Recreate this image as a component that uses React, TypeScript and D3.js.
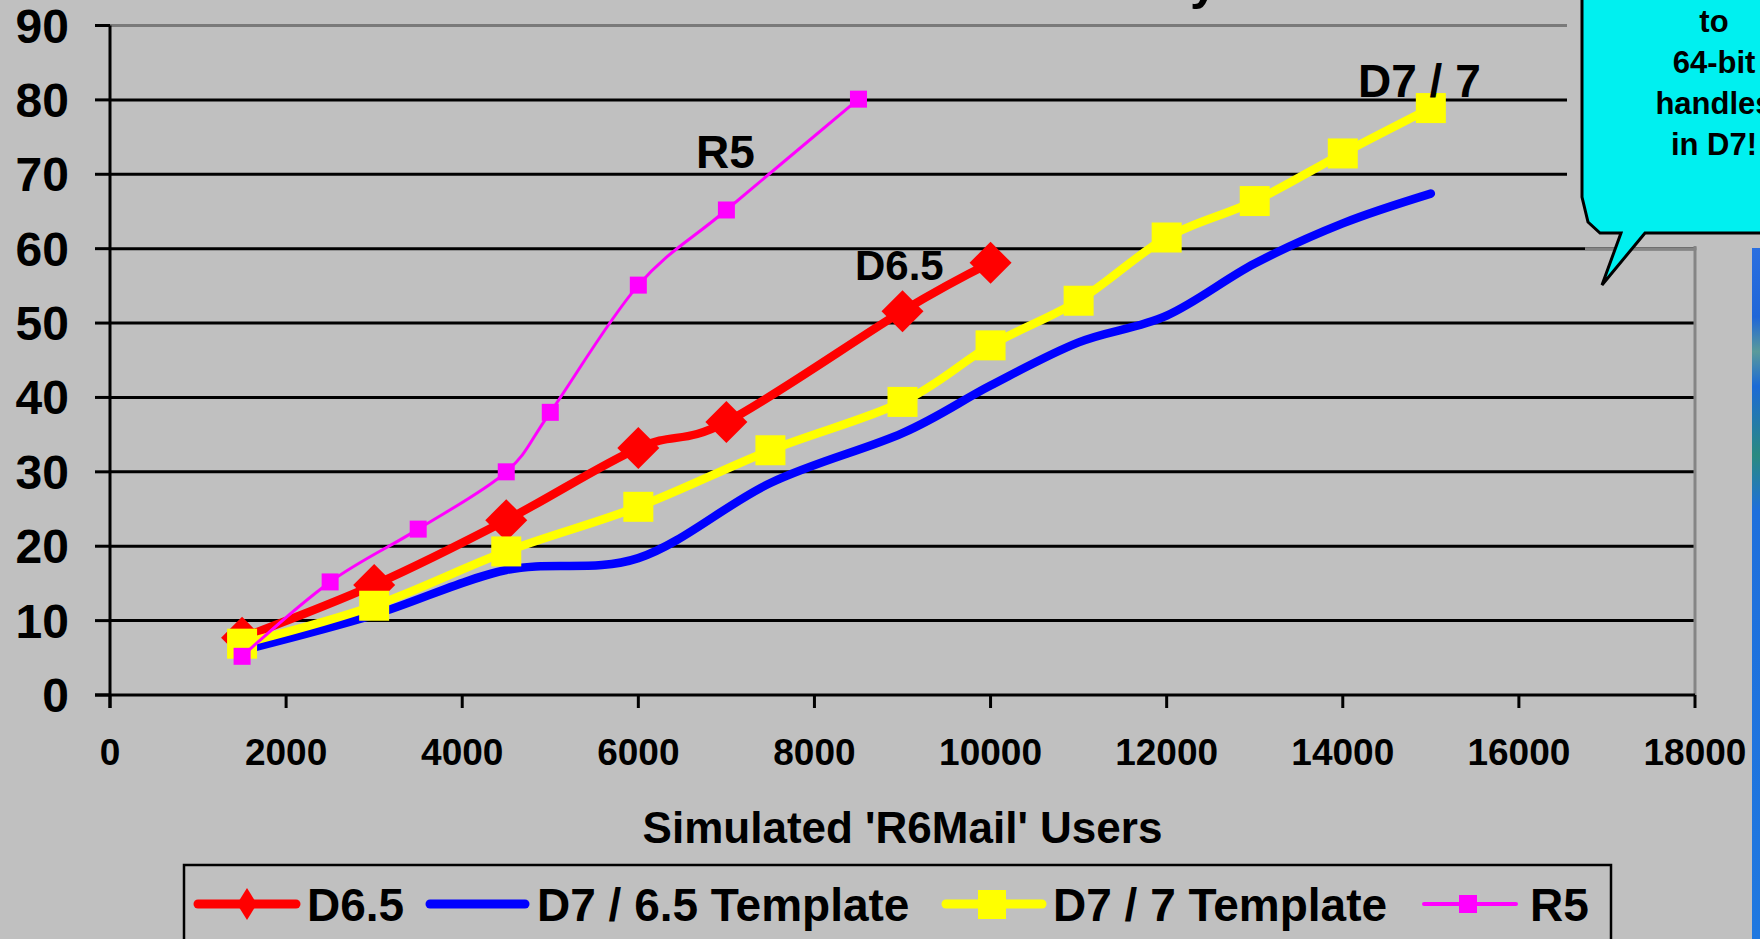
import React from "react";
import * as d3 from "d3";

// ---- data ----
const xTicks = [0, 2000, 4000, 6000, 8000, 10000, 12000, 14000, 16000, 18000];
const yTicks = [0, 10, 20, 30, 40, 50, 60, 70, 80, 90];

const d65X = [1500, 3000, 4500, 6000, 7000, 9000, 10000];
const d65Y = [7.7, 14.8, 23.5, 33.2, 36.7, 51.6, 58.1];

const d7t65X = [1500, 3000, 4500, 6000, 7500, 9000, 10000, 11000, 12000, 13000, 14000, 15000];
const d7t65Y = [6.0, 10.8, 16.8, 18.4, 28.5, 35.2, 41.6, 47.4, 51.0, 58.0, 63.4, 67.4];

const d7t7X = [1500, 3000, 4500, 6000, 7500, 9000, 10000, 11000, 12000, 13000, 14000, 15000];
const d7t7Y = [6.9, 12.0, 19.3, 25.3, 32.9, 39.4, 47.0, 53.0, 61.5, 66.4, 72.8, 78.9];

const r5X = [1500, 2500, 3500, 4500, 5000, 6000, 7000, 8500];
const r5Y = [5.2, 15.2, 22.3, 30.0, 38.0, 55.1, 65.2, 80.1];

const seriesNames = ["D6.5", "D7 / 6.5 Template", "D7 / 7 Template", "R5"];
const xTitle = "Simulated 'R6Mail' Users";
const calloutLines = ["to", "64-bit", "handles", "in D7!"];

const FONT = "'Liberation Sans', Arial, Helvetica, sans-serif";
const BG = "#c0c0c0";

export default function App() {
  const W = 1760, H = 939;
  const x = d3.scaleLinear().domain([0, 18000]).range([110, 1695]);
  const y = d3.scaleLinear().domain([0, 90]).range([695, 25.5]);

  const zip = (xs: number[], ys: number[]) => xs.map((v, i) => [v, ys[i]] as [number, number]);
  const line = d3
    .line<[number, number]>()
    .x((d) => x(d[0]))
    .y((d) => y(d[1]))
    .curve(d3.curveCardinal.tension(0));

  const red = zip(d65X, d65Y);
  const blue = zip(d7t65X, d7t65Y);
  const yellow = zip(d7t7X, d7t7Y);
  const mag = zip(r5X, r5Y);

  const diamond = (cx: number, cy: number, rx: number, ry: number) =>
    `M${cx},${cy - ry}L${cx + rx},${cy}L${cx},${cy + ry}L${cx - rx},${cy}Z`;

  const legendY = 904;
  const legendBase = 921;

  return (
    <svg
      width={W}
      height={H}
      style={{ position: "absolute", left: 0, top: 0, display: "block" }}
      fontFamily={FONT}
      fontWeight="bold"
    >
      <defs>
        <linearGradient id="stripe" x1="0" y1="0" x2="0" y2="1">
          <stop offset="0" stopColor="#2a6fe0" />
          <stop offset="0.1" stopColor="#1f66d8" />
          <stop offset="0.15" stopColor="#5a9a9a" />
          <stop offset="0.2" stopColor="#1c6ad6" />
          <stop offset="0.3" stopColor="#2a8a80" />
          <stop offset="0.38" stopColor="#1e6fdc" />
          <stop offset="1" stopColor="#1f78e0" />
        </linearGradient>
      </defs>
      <rect x={0} y={0} width={W} height={H} fill={BG} />

      {/* title fragment */}
      <text x={1190} y={-1} fontSize={50} fill="#000">y</text>

      {/* gridlines */}
      {yTicks.filter((t) => t > 0 && t < 90).map((t) => (
        <line key={"g" + t} x1={x(0)} x2={x(18000)} y1={y(t)} y2={y(t)} stroke="#000" strokeWidth={3} />
      ))}
      {/* plot border (top and right) */}
      <line x1={x(0)} x2={x(18000)} y1={y(90)} y2={y(90)} stroke="#7a7a7a" strokeWidth={3} />
      <line x1={x(18000)} x2={x(18000)} y1={y(90)} y2={y(0)} stroke="#858585" strokeWidth={3} />

      {/* axes */}
      <line x1={x(0)} x2={x(0)} y1={y(90)} y2={y(0) + 13} stroke="#000" strokeWidth={3} />
      <line x1={x(0) - 15} x2={x(18000)} y1={y(0)} y2={y(0)} stroke="#000" strokeWidth={3} />
      {yTicks.map((t) => (
        <line key={"yt" + t} x1={x(0) - 15} x2={x(0)} y1={y(t)} y2={y(t)} stroke="#000" strokeWidth={3} />
      ))}
      {xTicks.map((t) => (
        <line key={"xt" + t} x1={x(t)} x2={x(t)} y1={y(0)} y2={y(0) + 13} stroke="#000" strokeWidth={3} />
      ))}
      {yTicks.map((t) => (
        <text key={"yl" + t} x={69} y={y(t) + 17} fontSize={48} textAnchor="end" fill="#000">
          {t}
        </text>
      ))}
      {xTicks.map((t) => (
        <text key={"xl" + t} x={x(t)} y={765} fontSize={37} textAnchor="middle" fill="#000">
          {t}
        </text>
      ))}
      <text x={(x(0) + x(18000)) / 2} y={843} fontSize={44} textAnchor="middle" fill="#000">
        {xTitle}
      </text>

      {/* series */}
      <path d={line(red) || ""} fill="none" stroke="#ff0000" strokeWidth={8.5} strokeLinejoin="round" strokeLinecap="round" />
      {red.map((d, i) => (
        <path key={"rm" + i} d={diamond(x(d[0]), y(d[1]), 21, 21)} fill="#ff0000" />
      ))}
      <path d={line(blue) || ""} fill="none" stroke="#0000ff" strokeWidth={8.5} strokeLinejoin="round" strokeLinecap="round" />
      <path d={line(yellow) || ""} fill="none" stroke="#ffff00" strokeWidth={8.5} strokeLinejoin="round" strokeLinecap="round" />
      {yellow.map((d, i) => (
        <rect key={"ym" + i} x={x(d[0]) - 15} y={y(d[1]) - 15} width={30} height={30} fill="#ffff00" />
      ))}
      <path d={line(mag) || ""} fill="none" stroke="#ff00ff" strokeWidth={3} strokeLinejoin="round" />
      {mag.map((d, i) => (
        <rect key={"mm" + i} x={x(d[0]) - 8.5} y={y(d[1]) - 8.5} width={17} height={17} fill="#ff00ff" />
      ))}

      {/* in-chart labels */}
      <text x={696} y={168} fontSize={46} fill="#000">R5</text>
      <text x={855} y={280} fontSize={42} fill="#000">D6.5</text>
      <text x={1358} y={97} fontSize={46} fill="#000">D7 / 7</text>

      {/* covered region + callout */}
      <rect x={1567} y={0} width={W - 1567} height={246} fill={BG} />
      <line x1={1585} x2={x(18000) + 1.5} y1={y(60)} y2={y(60)} stroke="#858585" strokeWidth={3} />
      <rect x={1752} y={248} width={8} height={H - 248} fill="url(#stripe)" />
      <path
        d="M1582,-5L1582,197L1588,222L1600,233L1621,233L1602,285L1645,233L1765,233L1765,-5Z"
        fill="#00f0f0"
        stroke="#000"
        strokeWidth={3}
        strokeLinejoin="miter"
      />
      {calloutLines.map((s, i) => (
        <text key={"c" + i} x={1714} y={32 + i * 41} fontSize={31} textAnchor="middle" fill="#000">
          {s}
        </text>
      ))}

      {/* legend */}
      <rect x={184} y={865} width={1427} height={120} fill="none" stroke="#000" strokeWidth={2.5} />
      <line x1={198} x2={296} y1={legendY} y2={legendY} stroke="#ff0000" strokeWidth={9} strokeLinecap="round" />
      <path d={diamond(247, legendY, 10, 16)} fill="#ff0000" />
      <text x={307} y={legendBase} fontSize={46} fill="#000">{seriesNames[0]}</text>

      <line x1={430} x2={525} y1={legendY} y2={legendY} stroke="#0000ff" strokeWidth={9} strokeLinecap="round" />
      <text x={537} y={legendBase} fontSize={46} fill="#000">{seriesNames[1]}</text>

      <line x1={946} x2={1042} y1={legendY} y2={legendY} stroke="#ffff00" strokeWidth={9} strokeLinecap="round" />
      <rect x={992 - 14} y={legendY - 14} width={28} height={29} fill="#ffff00" />
      <text x={1053} y={legendBase} fontSize={46} fill="#000">{seriesNames[2]}</text>

      <line x1={1424} x2={1516} y1={legendY} y2={legendY} stroke="#ff00ff" strokeWidth={4} strokeLinecap="round" />
      <rect x={1468 - 9} y={legendY - 9} width={18} height={18} fill="#ff00ff" />
      <text x={1530} y={legendBase} fontSize={46} fill="#000">{seriesNames[3]}</text>
    </svg>
  );
}
